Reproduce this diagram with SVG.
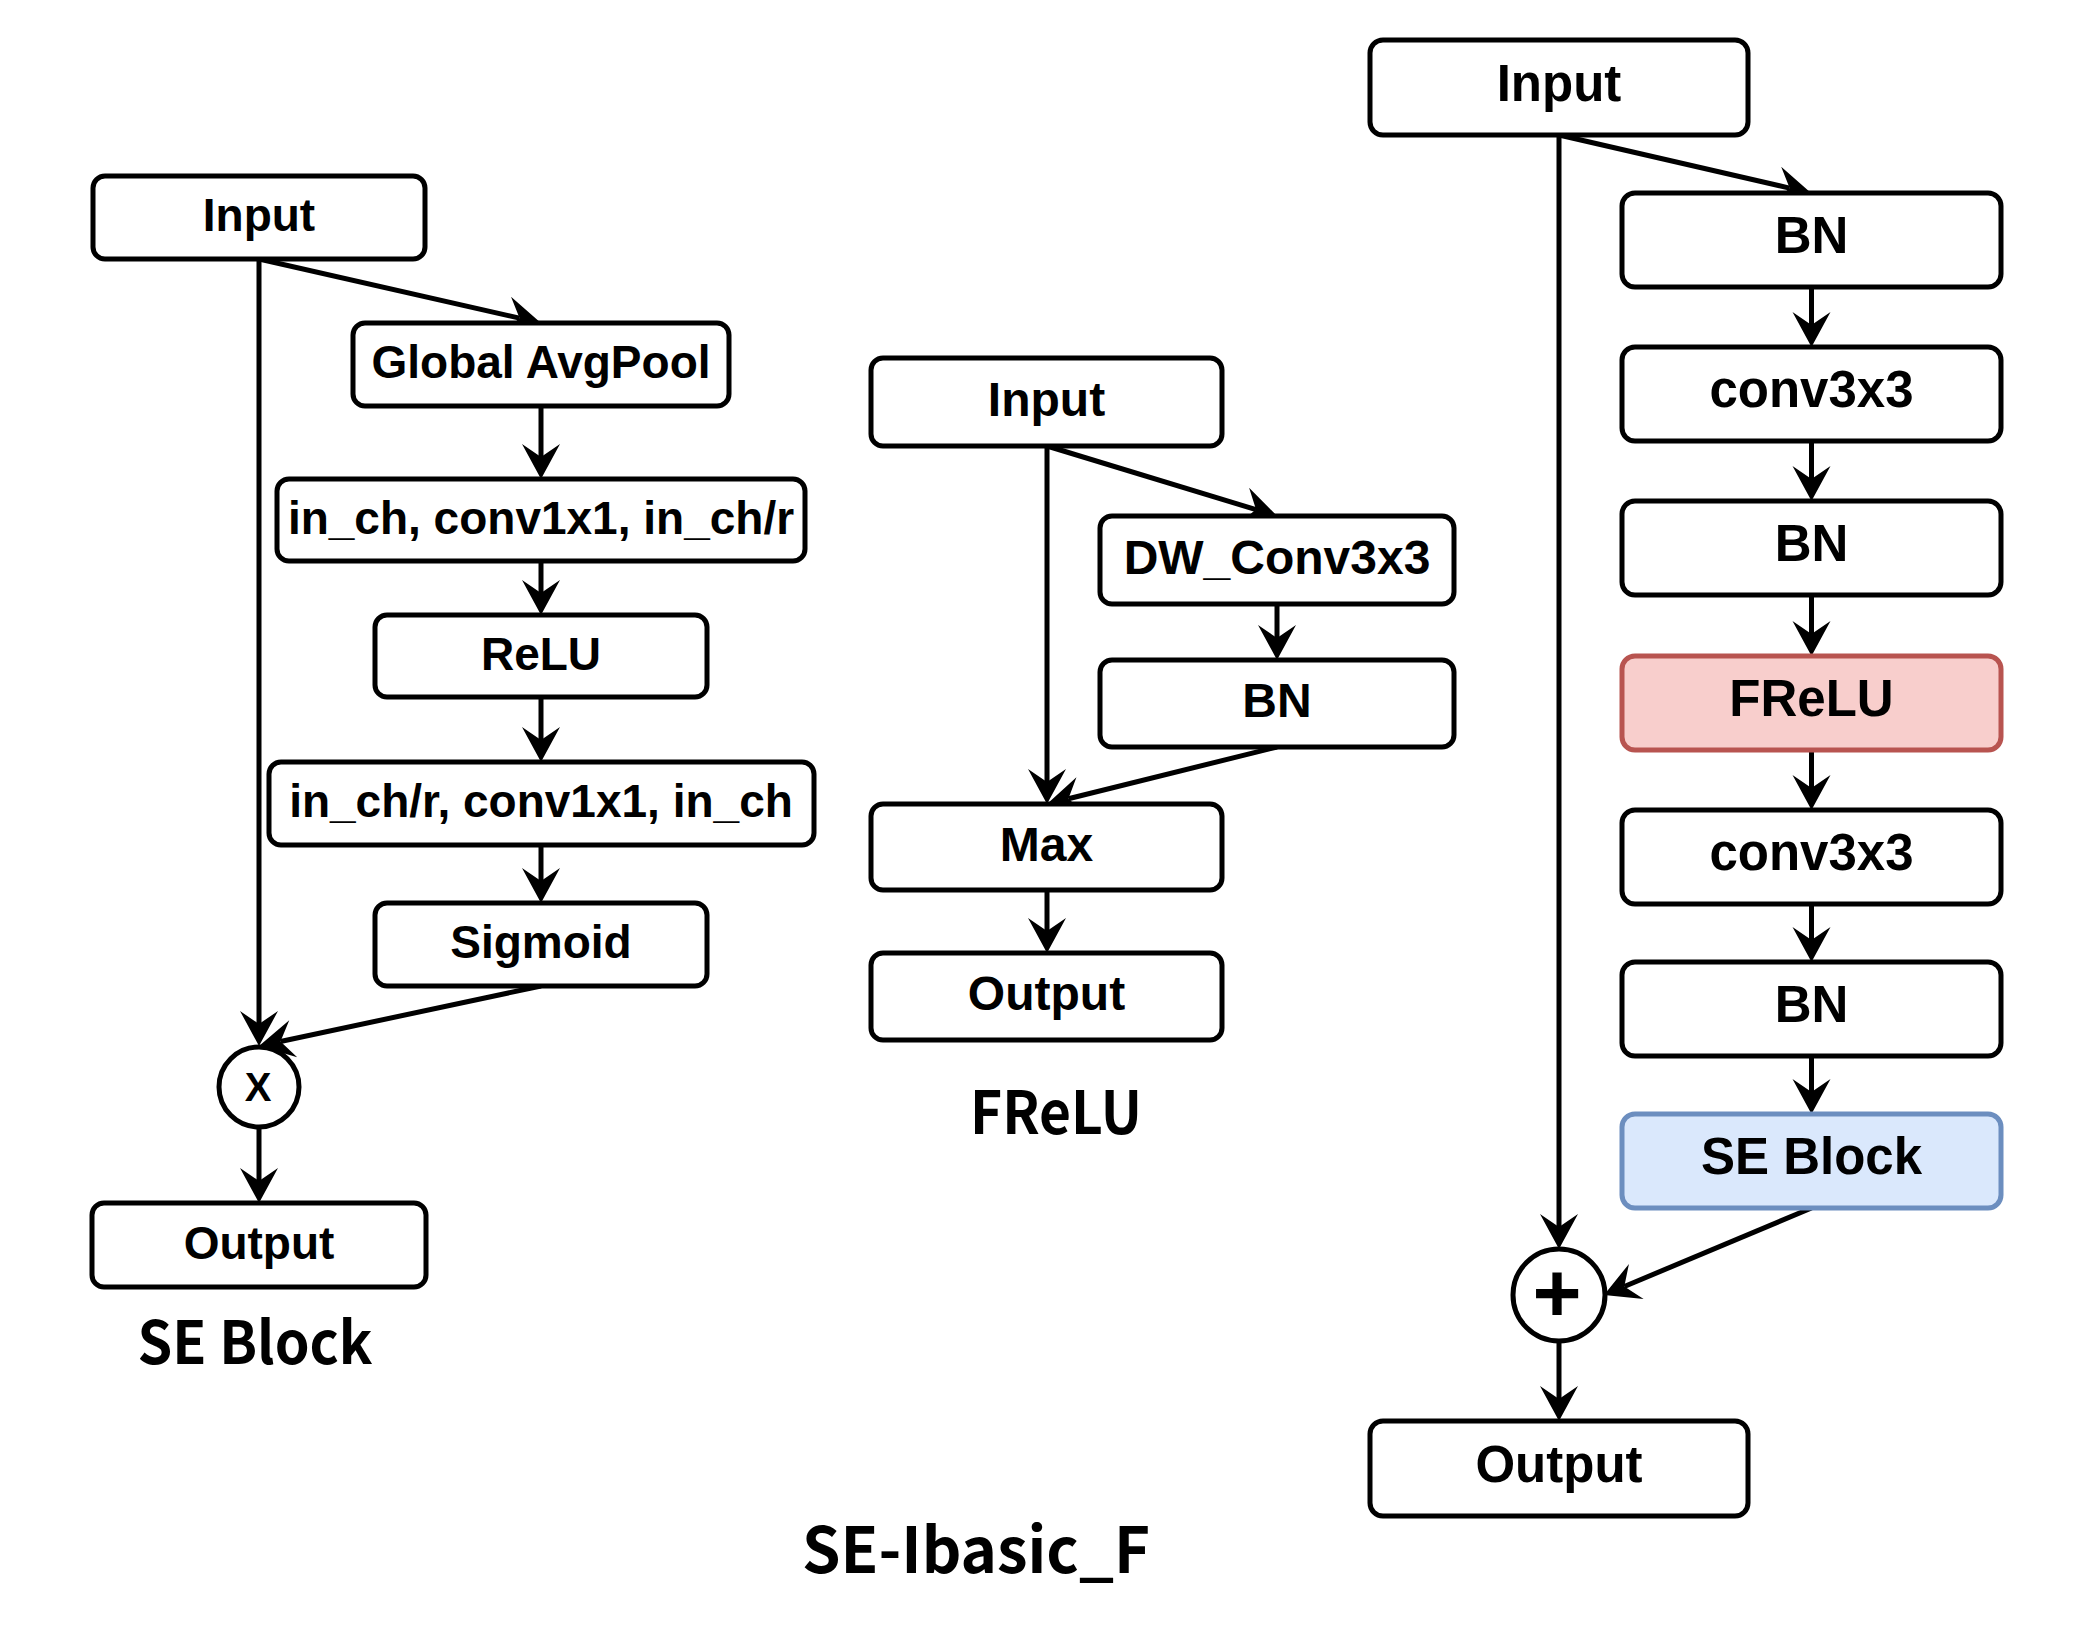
<svg xmlns="http://www.w3.org/2000/svg" width="2091" height="1640" viewBox="0 0 2091 1640">
<defs>
<style>
.box{fill:#ffffff;stroke:#000000;stroke-width:5}
.frelu{fill:#f8cecc;stroke:#b85450;stroke-width:5}
.se{fill:#dae8fc;stroke:#6c8ebf;stroke-width:5}
.lbl{font-family:"Liberation Sans",Arial,sans-serif;font-weight:bold;fill:#000;text-anchor:middle}
.s46{font-size:46px}
.s48{font-size:48px}
.s51{font-size:51px}
.cap{font-family:"Noto Sans CJK SC","Noto Sans",sans-serif;font-weight:700;fill:#000;text-anchor:middle}
.edge{fill:none;stroke:#000;stroke-width:5}
</style>
<marker id="arr" viewBox="-14 -20 38 40" markerWidth="38" markerHeight="40" refX="0" refY="0" orient="auto" markerUnits="userSpaceOnUse">
<path d="M22,0 L-13,-19 L0,0 L-13,19 Z" fill="#000"/>
</marker>
</defs>
<rect width="2091" height="1640" fill="#ffffff"/>

<g id="connectors">
<!-- SE Block -->
<line class="edge" x1="259" y1="259" x2="259" y2="1024" marker-end="url(#arr)"/>
<line class="edge" x1="259" y1="259" x2="519.5" y2="318.1" marker-end="url(#arr)"/>
<line class="edge" x1="541" y1="406" x2="541" y2="457" marker-end="url(#arr)"/>
<line class="edge" x1="541" y1="561" x2="541" y2="593" marker-end="url(#arr)"/>
<line class="edge" x1="541" y1="697" x2="541" y2="740" marker-end="url(#arr)"/>
<line class="edge" x1="541" y1="845" x2="541" y2="881" marker-end="url(#arr)"/>
<line class="edge" x1="541" y1="986" x2="280.5" y2="1041.5" marker-end="url(#arr)"/>
<line class="edge" x1="259" y1="1127" x2="259" y2="1181" marker-end="url(#arr)"/>
<!-- FReLU -->
<line class="edge" x1="1047" y1="446" x2="1047" y2="782" marker-end="url(#arr)"/>
<line class="edge" x1="1047" y1="446" x2="1256" y2="509.6" marker-end="url(#arr)"/>
<line class="edge" x1="1277" y1="604" x2="1277" y2="638" marker-end="url(#arr)"/>
<line class="edge" x1="1277" y1="747" x2="1068.4" y2="798.7" marker-end="url(#arr)"/>
<line class="edge" x1="1047" y1="890" x2="1047" y2="931" marker-end="url(#arr)"/>
<!-- SE-Ibasic_F -->
<line class="edge" x1="1559" y1="135" x2="1559" y2="1227" marker-end="url(#arr)"/>
<line class="edge" x1="1559" y1="135" x2="1789.6" y2="188.1" marker-end="url(#arr)"/>
<line class="edge" x1="1811.5" y1="287" x2="1811.5" y2="325" marker-end="url(#arr)"/>
<line class="edge" x1="1811.5" y1="441" x2="1811.5" y2="479" marker-end="url(#arr)"/>
<line class="edge" x1="1811.5" y1="595" x2="1811.5" y2="634" marker-end="url(#arr)"/>
<line class="edge" x1="1811.5" y1="750" x2="1811.5" y2="788" marker-end="url(#arr)"/>
<line class="edge" x1="1811.5" y1="904" x2="1811.5" y2="940" marker-end="url(#arr)"/>
<line class="edge" x1="1811.5" y1="1056" x2="1811.5" y2="1092" marker-end="url(#arr)"/>
<line class="edge" x1="1811.5" y1="1208" x2="1624.3" y2="1286.5" marker-end="url(#arr)"/>
<line class="edge" x1="1559" y1="1341" x2="1559" y2="1399" marker-end="url(#arr)"/>
</g>

<!-- SE Block -->
<g id="se_input"><rect class="box" x="93" y="176" width="332" height="83" rx="12"/><text class="lbl s46" x="259" y="231">Input</text></g>
<g id="se_gap"><rect class="box" x="353" y="323" width="376" height="83" rx="12"/><text class="lbl s46" x="541" y="378">Global AvgPool</text></g>
<g id="se_conv_a"><rect class="box" x="277" y="479" width="528" height="82" rx="12"/><text class="lbl s46" x="541" y="534">in_ch, conv1x1, in_ch/r</text></g>
<g id="se_relu"><rect class="box" x="375" y="615" width="332" height="82" rx="12"/><text class="lbl s46" x="541" y="670">ReLU</text></g>
<g id="se_conv_b"><rect class="box" x="269" y="762" width="545" height="83" rx="12"/><text class="lbl s46" x="541" y="817">in_ch/r, conv1x1, in_ch</text></g>
<g id="se_sigmoid"><rect class="box" x="375" y="903" width="332" height="83" rx="12"/><text class="lbl s46" x="541" y="958">Sigmoid</text></g>
<g id="se_mul"><circle class="box" cx="259" cy="1087" r="40"/><text class="lbl" style="font-size:40px" x="258" y="1101">X</text></g>
<g id="se_output"><rect class="box" x="92" y="1203" width="334" height="84" rx="12"/><text class="lbl s46" x="259" y="1259">Output</text></g>
<text id="cap_se" class="cap" style="font-size:59px" x="255" y="1364" textLength="235" lengthAdjust="spacingAndGlyphs">SE Block</text>

<!-- FReLU -->
<g id="fr_input"><rect class="box" x="871" y="358" width="351" height="88" rx="12"/><text class="lbl s48" x="1046.5" y="416">Input</text></g>
<g id="fr_dw"><rect class="box" x="1100" y="516" width="354" height="88" rx="12"/><text class="lbl s48" x="1277" y="574">DW_Conv3x3</text></g>
<g id="fr_bn"><rect class="box" x="1100" y="660" width="354" height="87" rx="12"/><text class="lbl s48" x="1277" y="717">BN</text></g>
<g id="fr_max"><rect class="box" x="871" y="804" width="351" height="86" rx="12"/><text class="lbl s48" x="1046.5" y="861">Max</text></g>
<g id="fr_output"><rect class="box" x="871" y="953" width="351" height="87" rx="12"/><text class="lbl s48" x="1046.5" y="1010">Output</text></g>
<text id="cap_frelu" class="cap" style="font-size:59px" x="1056" y="1134" textLength="172" lengthAdjust="spacingAndGlyphs">FReLU</text>

<!-- SE-Ibasic_F -->
<g id="sb_input"><rect class="box" x="1370" y="40" width="378" height="95" rx="13"/><text class="lbl s51" x="1559" y="101">Input</text></g>
<g id="sb_bn1"><rect class="box" x="1622" y="193" width="379" height="94" rx="13"/><text class="lbl s51" x="1811.5" y="253">BN</text></g>
<g id="sb_conv1"><rect class="box" x="1622" y="347" width="379" height="94" rx="13"/><text class="lbl s51" x="1811.5" y="407">conv3x3</text></g>
<g id="sb_bn2"><rect class="box" x="1622" y="501" width="379" height="94" rx="13"/><text class="lbl s51" x="1811.5" y="561">BN</text></g>
<g id="sb_frelu"><rect class="frelu" x="1622" y="656" width="379" height="94" rx="13"/><text class="lbl s51" x="1811.5" y="716">FReLU</text></g>
<g id="sb_conv2"><rect class="box" x="1622" y="810" width="379" height="94" rx="13"/><text class="lbl s51" x="1811.5" y="870">conv3x3</text></g>
<g id="sb_bn3"><rect class="box" x="1622" y="962" width="379" height="94" rx="13"/><text class="lbl s51" x="1811.5" y="1022">BN</text></g>
<g id="sb_se"><rect class="se" x="1622" y="1114" width="379" height="94" rx="13"/><text class="lbl s51" x="1811.5" y="1174">SE Block</text></g>
<g id="sb_add"><circle class="box" cx="1559" cy="1295" r="46"/><text class="lbl" style="font-size:84px" x="1557" y="1322">+</text></g>
<g id="sb_output"><rect class="box" x="1370" y="1421" width="378" height="95" rx="13"/><text class="lbl s51" x="1559" y="1482">Output</text></g>
<text id="title" class="cap" style="font-size:63px" x="976" y="1573" textLength="348" lengthAdjust="spacingAndGlyphs">SE-Ibasic_F</text>
</svg>
